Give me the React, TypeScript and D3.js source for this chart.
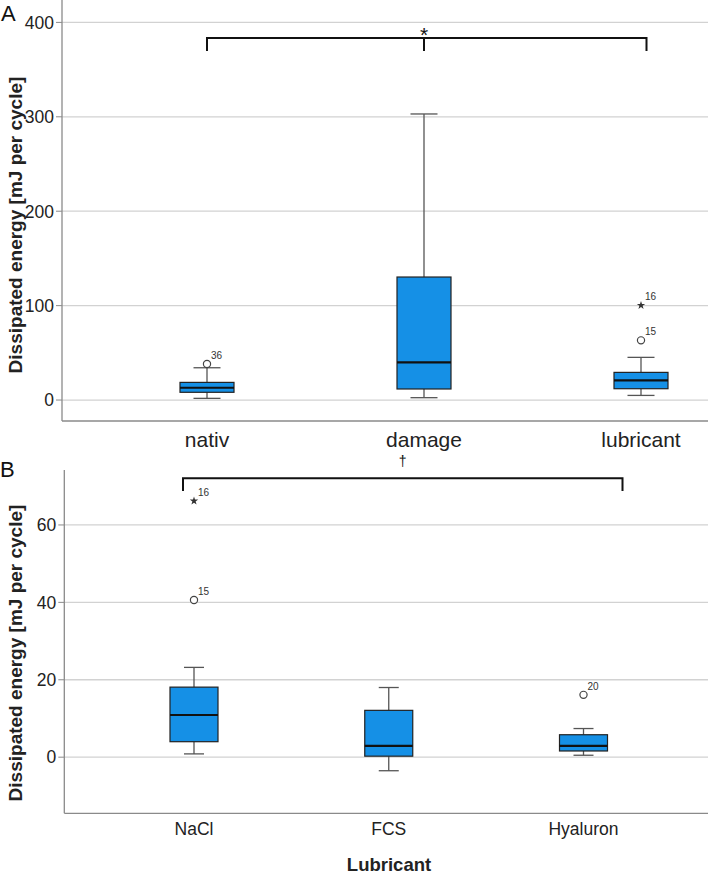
import React from "react";
import * as d3 from "d3";

// ---------- Panel A data ----------
const groupsA = ["nativ", "damage", "lubricant"];
const minA = [1.8, 2.5, 4.9];
const q1A = [8.2, 11.7, 12.0];
const medA = [13.0, 39.9, 20.8];
const q3A = [18.7, 130.3, 29.3];
const maxA = [34.2, 303, 45.2];
const outGroupA = ["nativ", "lubricant", "lubricant"];
const outValueA = [38.1, 63.2, 100.3];
const outIdA = ["36", "15", "16"];
const outKindA = ["circle", "circle", "star"];
const ticksA = [0, 100, 200, 300, 400];

// ---------- Panel B data ----------
const groupsB = ["NaCl", "FCS", "Hyaluron"];
const minB = [0.85, -3.5, 0.5];
const q1B = [4.0, 0.26, 1.6];
const medB = [10.9, 2.9, 2.9];
const q3B = [18.1, 12.1, 5.8];
const maxB = [23.2, 18.0, 7.4];
const outGroupB = ["NaCl", "NaCl", "Hyaluron"];
const outValueB = [40.6, 66.2, 16.1];
const outIdB = ["15", "16", "20"];
const outKindB = ["circle", "star", "circle"];
const ticksB = [0, 20, 40, 60];

const FONT = "'Liberation Sans', Arial, sans-serif";
const BOX_FILL = "#1590e6";
const GRID = "#d2d2d2";
const AXIS = "#8a8a8a";
const WHISK = "#555";

type PanelProps = {
  groups: string[];
  mins: number[];
  q1s: number[];
  meds: number[];
  q3s: number[];
  maxs: number[];
  outGroups: string[];
  outValues: number[];
  outIds: string[];
  outKinds: string[];
  ticks: number[];
  y: d3.ScaleLinear<number, number>;
  x: d3.ScalePoint<string>;
  axisX: number;
  top: number;
  bottom: number;
  boxW: number;
  capW: number;
  catY: number;
  catSize: number;
};

function Panel(p: PanelProps) {
  const star = d3.symbol().type(d3.symbolStar).size(22)();
  return (
    <g>
      {p.ticks.map((t) => (
        <g key={"g" + t}>
          <line x1={p.axisX} x2={708} y1={p.y(t)} y2={p.y(t)} stroke={GRID} strokeWidth={1.3} />
          <line x1={p.axisX - 6} x2={p.axisX} y1={p.y(t)} y2={p.y(t)} stroke={AXIS} strokeWidth={1} />
          <text x={p.axisX - 8} y={p.y(t)} dy="0.36em" textAnchor="end" fontSize={17.5} fill="#222" fontFamily={FONT}>
            {t}
          </text>
        </g>
      ))}
      <line x1={p.axisX} x2={p.axisX} y1={p.top} y2={p.bottom} stroke={AXIS} strokeWidth={1.3} />
      <line x1={p.axisX} x2={708} y1={p.bottom} y2={p.bottom} stroke={AXIS} strokeWidth={1.3} />
      {p.groups.map((g, i) => {
        const cx = p.x(g) as number;
        return (
          <g key={g}>
            <line x1={cx} x2={cx} y1={p.y(p.maxs[i])} y2={p.y(p.q3s[i])} stroke={WHISK} strokeWidth={1.3} />
            <line x1={cx} x2={cx} y1={p.y(p.q1s[i])} y2={p.y(p.mins[i])} stroke={WHISK} strokeWidth={1.3} />
            <line x1={cx - p.capW / 2} x2={cx + p.capW / 2} y1={p.y(p.maxs[i])} y2={p.y(p.maxs[i])} stroke={WHISK} strokeWidth={1.3} />
            <line x1={cx - p.capW / 2} x2={cx + p.capW / 2} y1={p.y(p.mins[i])} y2={p.y(p.mins[i])} stroke={WHISK} strokeWidth={1.3} />
            <rect
              x={cx - p.boxW / 2}
              width={p.boxW}
              y={p.y(p.q3s[i])}
              height={p.y(p.q1s[i]) - p.y(p.q3s[i])}
              fill={BOX_FILL}
              stroke="#222"
              strokeWidth={1.2}
            />
            <line x1={cx - p.boxW / 2} x2={cx + p.boxW / 2} y1={p.y(p.meds[i])} y2={p.y(p.meds[i])} stroke="#111" strokeWidth={2.2} />
            <text x={cx} y={p.catY} textAnchor="middle" fontSize={p.catSize} fill="#222" fontFamily={FONT}>
              {g}
            </text>
          </g>
        );
      })}
      {p.outValues.map((v, i) => {
        const cx = p.x(p.outGroups[i]) as number;
        const cy = p.y(v);
        return (
          <g key={"o" + i}>
            {p.outKinds[i] === "circle" ? (
              <circle cx={cx} cy={cy} r={3.6} fill="white" stroke="#444" strokeWidth={1.2} />
            ) : (
              <path d={star as string} transform={`translate(${cx},${cy})`} fill="#333" />
            )}
            <text x={cx + 4} y={cy - 5} fontSize={10} fill="#333" fontFamily={FONT}>
              {p.outIds[i]}
            </text>
          </g>
        );
      })}
    </g>
  );
}

export default function App() {
  const yA = d3.scaleLinear().domain([-22.2, 421.6]).range([421, 2]);
  const xA = d3.scalePoint<string>().domain(groupsA).range([207, 641]);
  const yB = d3.scaleLinear().domain([-14.5, 74.2]).range([813.3, 470]);
  const xB = d3.scalePoint<string>().domain(groupsB).range([194, 583.5]);

  const aL = xA(groupsA[0]) as number;
  const aM = xA(groupsA[1]) as number;
  const aR = (xA(groupsA[2]) as number) + 5.5;
  const bL = (xB(groupsB[0]) as number) - 11;
  const bR = (xB(groupsB[2]) as number) + 39;

  return (
    <svg width={708} height={874} style={{ position: "absolute", left: 0, top: 0, background: "white" }}>
      <rect width={708} height={874} fill="white" />
      <text x={1} y={21} fontSize={22} fill="#111" fontFamily={FONT}>A</text>
      <text x={0} y={477} fontSize={22} fill="#111" fontFamily={FONT}>B</text>

      <text
        transform={`translate(22,225) rotate(-90)`}
        textAnchor="middle"
        fontSize={19}
        fontWeight="bold"
        fill="#222"
        fontFamily={FONT}
      >
        Dissipated energy [mJ per cycle]
      </text>
      <text
        transform={`translate(22,653) rotate(-90)`}
        textAnchor="middle"
        fontSize={19}
        fontWeight="bold"
        fill="#222"
        fontFamily={FONT}
      >
        Dissipated energy [mJ per cycle]
      </text>

      <Panel
        groups={groupsA}
        mins={minA}
        q1s={q1A}
        meds={medA}
        q3s={q3A}
        maxs={maxA}
        outGroups={outGroupA}
        outValues={outValueA}
        outIds={outIdA}
        outKinds={outKindA}
        ticks={ticksA}
        y={yA}
        x={xA}
        axisX={62}
        top={0}
        bottom={421}
        boxW={54}
        capW={27}
        catY={447}
        catSize={21}
      />
      <Panel
        groups={groupsB}
        mins={minB}
        q1s={q1B}
        meds={medB}
        q3s={q3B}
        maxs={maxB}
        outGroups={outGroupB}
        outValues={outValueB}
        outIds={outIdB}
        outKinds={outKindB}
        ticks={ticksB}
        y={yB}
        x={xB}
        axisX={64.3}
        top={470}
        bottom={813.3}
        boxW={48}
        capW={20}
        catY={835}
        catSize={17.5}
      />

      {/* significance bracket A */}
      <path
        d={`M${aL},51 V38 H${aR} V51 M${aM},38 V51`}
        fill="none"
        stroke="#111"
        strokeWidth={2}
      />
      <text x={aM} y={42} textAnchor="middle" fontSize={21} fill="#111" fontFamily={FONT}>*</text>

      {/* significance bracket B */}
      <path d={`M${bL},491 V478.3 H${bR} V491`} fill="none" stroke="#111" strokeWidth={2} />
      <text x={(bL + bR) / 2} y={466} textAnchor="middle" fontSize={14} fill="#111" fontFamily={FONT}>†</text>

      <text x={389} y={871} textAnchor="middle" fontSize={18.5} fontWeight="bold" fill="#222" fontFamily={FONT}>
        Lubricant
      </text>
    </svg>
  );
}
